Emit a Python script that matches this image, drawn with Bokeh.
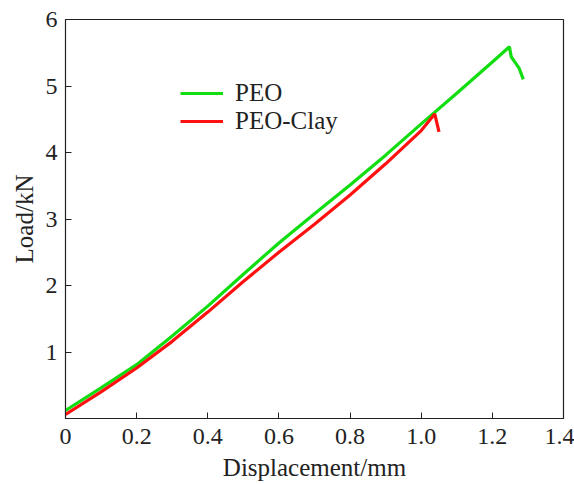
from bokeh.plotting import figure
from bokeh.models import Legend, LegendItem, Range1d, FixedTicker
from bokeh.embed import file_html
from bokeh.resources import INLINE

# PEO (green)
peo_x = [0.0, 0.1, 0.2, 0.3, 0.4, 0.5, 0.6, 0.7, 0.8, 0.9, 1.0, 1.1, 1.2, 1.248, 1.253, 1.262, 1.275, 1.287]
peo_y = [0.12, 0.46, 0.81, 1.24, 1.69, 2.17, 2.64, 3.08, 3.51, 3.96, 4.43, 4.89, 5.36, 5.59, 5.44, 5.37, 5.27, 5.10]
# PEO-Clay (red)
clay_x = [0.0, 0.1, 0.2, 0.3, 0.4, 0.5, 0.6, 0.7, 0.8, 0.9, 1.0, 1.038, 1.050]
clay_y = [0.06, 0.40, 0.76, 1.16, 1.60, 2.06, 2.50, 2.92, 3.36, 3.83, 4.33, 4.58, 4.31]

x_ticks = [0.0, 0.2, 0.4, 0.6, 0.8, 1.0, 1.2, 1.4]
x_labels = ["0", "0.2", "0.4", "0.6", "0.8", "1.0", "1.2", "1.4"]
y_ticks = [1, 2, 3, 4, 5, 6]

FONT = "Liberation Serif"
INK = "#222222"

p = figure(width=574, height=484, output_backend="svg", toolbar_location=None,
           x_range=Range1d(0, 1.4), y_range=Range1d(0, 6),
           min_border_left=65, min_border_right=11, min_border_top=19, min_border_bottom=66)
p.grid.visible = False
p.outline_line_color = INK
p.outline_line_width = 1.2
p.background_fill_color = "white"
p.border_fill_color = "white"

g = p.line(peo_x, peo_y, line_color="#11dd11", line_width=3.2)
r = p.line(clay_x, clay_y, line_color="#ff1111", line_width=3.2)

p.xaxis.ticker = FixedTicker(ticks=x_ticks)
p.xaxis.major_label_overrides = {t: l for t, l in zip(x_ticks, x_labels)}
p.yaxis.ticker = FixedTicker(ticks=y_ticks)
for ax in (p.xaxis, p.yaxis):
    ax.minor_tick_line_color = None
    ax.major_tick_in = 6
    ax.major_tick_out = 0
    ax.major_tick_line_color = INK
    ax.axis_line_color = INK
    ax.major_label_text_font = FONT
    ax.major_label_text_font_size = "24px"
    ax.major_label_text_color = INK
    ax.axis_label_text_font = FONT
    ax.axis_label_text_font_size = "25px"
    ax.axis_label_text_font_style = "normal"
    ax.axis_label_text_color = INK
p.xaxis.axis_label = "Displacement/mm"
p.yaxis.axis_label = "Load/kN"
p.xaxis.major_label_standoff = 10
p.yaxis.major_label_standoff = 8
p.xaxis.axis_label_standoff = 7
p.yaxis.axis_label_standoff = 5

legend = Legend(items=[LegendItem(label="PEO", renderers=[g]),
                       LegendItem(label="PEO-Clay", renderers=[r])],
                location=(115, 283), border_line_color=None, background_fill_alpha=0,
                label_text_font=FONT, label_text_font_size="25px", label_text_color=INK,
                glyph_width=43, glyph_height=22, label_height=22, spacing=-1,
                label_standoff=12, padding=0, margin=0)
p.add_layout(legend)

open("out.html", "w").write(file_html(p, INLINE))
